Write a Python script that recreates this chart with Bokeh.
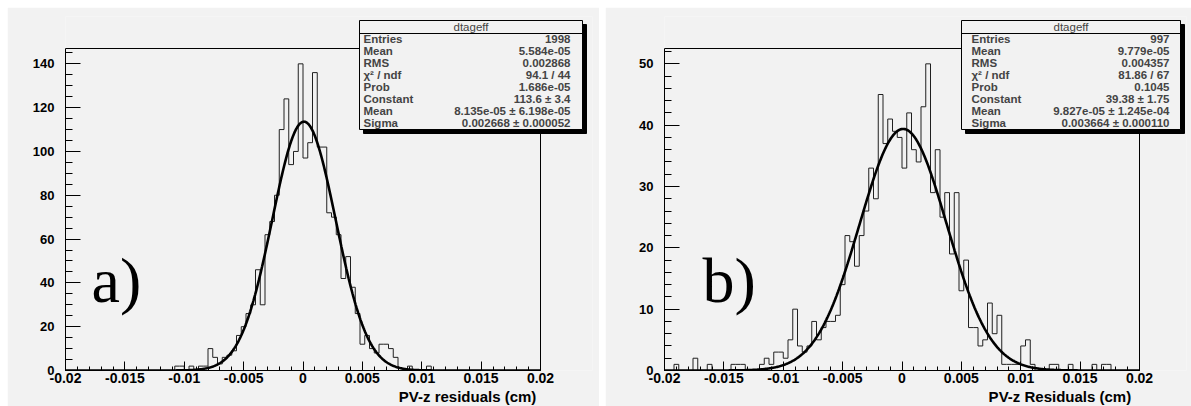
import numpy as np
from bokeh.plotting import figure
from bokeh.models import Range1d, FixedTicker, Label, Title
from bokeh.layouts import row
from bokeh.embed import file_html
from bokeh.resources import INLINE

# ---------------- data ----------------
x_lo, x_hi = -0.02, 0.02
bin_width = 0.0004

# panel a) bin contents (100 bins from -0.02 to 0.02)
counts_a = [0] * 23 + [
    2, 2, 0, 2, 0, 2, 2, 10, 6, 3,          # 23-32
    6, 7, 9, 16, 20, 26, 30, 46, 30, 62,    # 33-42
    68, 80, 110, 124, 94, 100, 140, 97, 104, 136,  # 43-52
    102, 102, 72, 70, 62, 42, 52, 38, 26, 12,      # 53-62
    16, 10, 8, 12, 12, 10, 6, 1, 0, 2,      # 63-72
    0, 0, 0, 2,                             # 73-76
] + [0] * 23

# panel b) bin contents
counts_b = [
    0, 0, 1, 0, 0, 0, 2, 0, 0, 1,           # 0-9
    0, 0, 0, 0, 1, 1, 1, 0, 0, 0,           # 10-19
    1, 2, 1, 3, 3, 2, 5, 10, 4, 3,          # 20-29
    4, 8, 5, 7, 8, 8, 9, 14, 22, 21,        # 30-39
    17, 22, 26, 33, 28, 45, 37, 41, 39, 38, # 40-49
    33, 42, 36, 34, 43, 50, 29, 36, 25, 29, # 50-59
    19, 29, 13, 18, 7, 7, 4, 5, 11, 6,      # 60-69
    9, 1, 1, 1, 1, 4, 5, 1, 0, 0,           # 70-79
    0, 1, 1, 0, 0, 1, 0, 0, 0, 0,           # 80-89
    1, 0, 1, 1, 0, 0, 0, 0, 0, 0,           # 90-99
]

# Gaussian fit results (Constant, Mean, Sigma) as printed in the stat boxes
fit_a = (113.6, 8.135e-05, 0.002668)
fit_b = (39.38, 9.827e-05, 0.003664)

stat_title = "dtageff"
stat_names = ["Entries", "Mean", "RMS", "\u03c7\u00b2 / ndf", "Prob", "Constant", "Mean", "Sigma"]
stat_vals_a = ["1998", "5.584e-05", "0.002868", "94.1 / 44", "1.686e-05",
               "113.6 \u00b1 3.4", "8.135e-05 \u00b1 6.198e-05", "0.002668 \u00b1 0.000052"]
stat_vals_b = ["997", "9.779e-05", "0.004357", "81.86 / 67", "0.1045",
               "39.38 \u00b1 1.75", "9.827e-05 \u00b1 1.245e-04", "0.003664 \u00b1 0.000110"]

x_ticks = [-0.02, -0.015, -0.01, -0.005, 0.0, 0.005, 0.01, 0.015, 0.02]
x_tick_labels = ["-0.02", "-0.015", "-0.01", "-0.005", "0", "0.005", "0.01", "0.015", "0.02"]
x_minor = [round(-0.02 + 0.001 * k, 4) for k in range(41)]

y_max_a = 147.0
y_ticks_a = [0, 20, 40, 60, 80, 100, 120, 140]
y_minor_a = list(range(0, 150, 5))
y_max_b = 52.5
y_ticks_b = [0, 10, 20, 30, 40, 50]
y_minor_b = list(range(0, 53, 2))

title_a = "PV-z residuals  (cm)"
title_b = "PV-z Residuals   (cm)"
tag_a = "a)"
tag_b = "b)"

BG = "#f2f2f2"
SANS = "Liberation Sans"
SERIF = "Liberation Serif"

# page-pixel geometry of the histogram frame (ROOT pad frame)
HF_TOP, HF_BOT, HF_W = 48, 370, 475


def make_panel(counts, fit, y_max, y_ticks, y_minor, xtitle, tag, stat_vals,
               fig_w, fig_left, hf_left, frame_right, box_px, tag_px):
    fig_top = 7
    frame_top = 16
    fig_h = 399
    hf_right = hf_left + HF_W
    ppx = HF_W / (x_hi - x_lo)                 # px per x unit
    ppy = (HF_BOT - HF_TOP) / y_max            # px per y unit
    x_end = x_hi + (frame_right - hf_right) / ppx
    y_end = y_max + (HF_TOP - frame_top) / ppy

    p = figure(width=fig_w, height=fig_h,
               output_backend="svg", toolbar_location=None,
               x_range=Range1d(x_lo, x_end), y_range=Range1d(0, y_end),
               min_border_left=hf_left - fig_left,
               min_border_right=fig_left + fig_w - frame_right,
               min_border_top=frame_top - fig_top,
               min_border_bottom=fig_top + fig_h - HF_BOT)
    p.background_fill_color = BG
    p.border_fill_color = BG
    p.outline_line_color = None
    p.xgrid.visible = False
    p.ygrid.visible = False

    def dx(px):
        return x_lo + (px - hf_left) / ppx

    def dy(py):
        return (HF_BOT - py) / ppy

    # histogram frame
    p.quad(left=[x_lo], right=[x_hi], bottom=[0], top=[y_max],
           fill_color=None, line_color="black", line_width=1)

    # histogram outline
    edges = [x_lo + bin_width * i for i in range(len(counts) + 1)]
    hx, hy = [], []
    for i, c in enumerate(counts):
        hx += [edges[i], edges[i + 1]]
        hy += [c, c]
    p.line(hx, hy, line_color="#202020", line_width=1)

    # fit curve
    const, mu, sig = fit
    fx = np.linspace(x_lo, x_hi, 600)
    fy = const * np.exp(-0.5 * ((fx - mu) / sig) ** 2)
    p.line(fx, fy, line_color="black", line_width=2.6)

    xa = p.xaxis[0]
    xa.bounds = (x_lo, x_hi)
    xa.ticker = FixedTicker(ticks=x_ticks, minor_ticks=x_minor)
    xa.major_label_overrides = dict(zip(x_ticks, x_tick_labels))
    xa.major_tick_in, xa.major_tick_out = 9, 0
    xa.minor_tick_in, xa.minor_tick_out = 4, 0
    xa.major_label_standoff = 2
    xa.major_label_text_font = SANS
    xa.major_label_text_font_style = "bold"
    xa.major_label_text_font_size = "14px"
    xa.major_label_text_color = "black"
    xa.axis_line_color = "black"
    xa.major_tick_line_color = "black"
    xa.minor_tick_line_color = "black"

    ya = p.yaxis[0]
    ya.bounds = (0, y_max)
    ya.ticker = FixedTicker(ticks=y_ticks, minor_ticks=y_minor)
    ya.major_tick_in, ya.major_tick_out = 15, 0
    ya.minor_tick_in, ya.minor_tick_out = 7, 0
    ya.major_label_standoff = 11
    ya.major_label_text_font = SANS
    ya.major_label_text_font_style = "bold"
    ya.major_label_text_font_size = "13px"
    ya.major_label_text_color = "black"
    ya.axis_line_color = "black"
    ya.major_tick_line_color = "black"
    ya.minor_tick_line_color = "black"

    # x-axis title, right aligned at the end of the axis
    p.add_layout(Title(text=xtitle, align="right", offset=frame_right - hf_right,
                       text_font=SANS, text_font_style="bold", text_font_size="15px",
                       text_color="black", standoff=0), "below")

    # big tag
    p.add_layout(Label(x=dx(tag_px[0]), y=dy(tag_px[1]), text=tag,
                       text_font=SERIF, text_font_size="64px",
                       text_baseline="alphabetic", text_align="left",
                       text_color="black"))

    # statistics box (shadow, box, header line)
    bl, br, bt, bb, lab_x, val_x = box_px
    p.quad(left=[dx(bl + 4)], right=[dx(br + 4)], top=[dy(bt + 4)], bottom=[dy(bb + 4)],
           fill_color="black", line_color="black")
    p.quad(left=[dx(bl)], right=[dx(br)], top=[dy(bt)], bottom=[dy(bb)],
           fill_color=BG, line_color="black", line_width=1)
    p.segment(x0=[dx(bl)], x1=[dx(br)], y0=[dy(bt + 13)], y1=[dy(bt + 13)],
              line_color="black", line_width=1)
    p.add_layout(Label(x=dx((bl + br) / 2), y=dy(bt + 6.5), text=stat_title,
                       text_font=SANS, text_font_size="11.5px",
                       text_align="center", text_baseline="middle"))
    for k, (nm, vv) in enumerate(zip(stat_names, stat_vals)):
        yy = dy(bt + 18.5 + 12.05 * k)
        p.add_layout(Label(x=dx(lab_x), y=yy, text=nm, text_font=SANS,
                           text_font_size="11.5px", text_font_style="bold",
                           text_align="left", text_baseline="middle"))
        p.add_layout(Label(x=dx(val_x), y=yy, text=vv, text_font=SANS,
                           text_font_size="11.5px", text_font_style="bold",
                           text_align="right", text_baseline="middle"))
    return p


p1 = make_panel(counts_a, fit_a, y_max_a, y_ticks_a, y_minor_a, title_a, tag_a, stat_vals_a,
                fig_w=592, fig_left=7, hf_left=65, frame_right=592,
                box_px=(359, 582, 20, 129, 363, 570), tag_px=(91, 280))
p2 = make_panel(counts_b, fit_b, y_max_b, y_ticks_b, y_minor_b, title_b, tag_b, stat_vals_b,
                fig_w=586, fig_left=605, hf_left=664, frame_right=1186,
                box_px=(961, 1180, 20, 129, 971, 1169), tag_px=(702, 280))
p1.margin = (7, 0, 0, 7)
p2.margin = (7, 0, 0, 6)

layout = row(p1, p2)
open("out.html", "w").write(file_html(layout, INLINE))
